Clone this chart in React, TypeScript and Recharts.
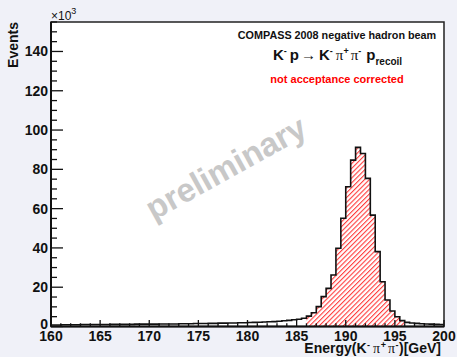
import { Area, ComposedChart, ReferenceArea, XAxis, YAxis } from "recharts";

const W = 457;
const H = 357;

// K- pi+ pi- energy, 0.5 GeV bins from 160 to 200 GeV, counts in units of 10^3
const BIN_START = 160;
const BIN_WIDTH = 0.5;
const COUNTS = [
  0.8, 0.8, 0.9, 0.9, 0.9, 0.9, 1.0, 1.0, 1.0, 1.0,
  1.0, 1.0, 1.1, 1.1, 1.1, 1.1, 1.1, 1.2, 1.2, 1.2,
  1.2, 1.2, 1.3, 1.3, 1.3, 1.3, 1.4, 1.4, 1.4, 1.5,
  1.5, 1.5, 1.6, 1.6, 1.7, 1.7, 1.8, 1.8, 1.9, 1.9,
  2.0, 2.1, 2.2, 2.3, 2.4, 2.5, 2.7, 2.9, 3.1, 3.4,
  3.7, 4.2, 5.3, 7.0, 10.1, 15.2, 19.4, 26.2, 39.8, 55.1,
  71.1, 84.7, 91.2, 88.1, 75.4, 56.7, 38.1, 22.8, 13.5, 7.9,
  5.0, 3.0, 2.1, 1.8, 1.6, 1.4, 1.3, 1.2, 1.1, 1.0,
];

// exclusive selection window (hatched)
const CUT_LO = 186;
const CUT_HI = 196;

const X_DOMAIN = [160, 200];
const Y_DOMAIN = [0, 155];
const X_TICKS = Array.from({ length: 41 }, (_, i) => 160 + i);
const Y_TICKS = Array.from({ length: 32 }, (_, i) => i * 5);

const rows = COUNTS.map((v, i) => {
  const e = BIN_START + i * BIN_WIDTH;
  return { e, v, h: e >= CUT_LO && e <= CUT_HI ? v : null };
});
rows.push({ e: X_DOMAIN[1], v: COUNTS[COUNTS.length - 1], h: null });

const INK = "#111";
const FONT = "'Liberation Sans', Arial, Helvetica, sans-serif";
const SERIF = "'Liberation Serif', 'DejaVu Serif', serif";

function YTick(p: any) {
  const v = p.payload.value as number;
  const major = v % 20 === 0;
  return (
    <g>
      <line x1={p.x} x2={p.x + (major ? 12 : 6)} y1={p.y} y2={p.y} stroke={INK} strokeWidth={1.3} />
      {major && (
        <text
          x={p.x - 3}
          y={p.y + (v === 0 ? 2 : 5)}
          textAnchor="end"
          fontFamily={FONT}
          fontWeight="bold"
          fontSize={14}
          fill={INK}
        >
          {v}
        </text>
      )}
    </g>
  );
}

function XTick(p: any) {
  const v = p.payload.value as number;
  const major = v % 5 === 0;
  return (
    <g>
      <line x1={p.x} x2={p.x} y1={p.y} y2={p.y - (major ? 6.5 : 3.2)} stroke={INK} strokeWidth={1.3} />
      {major && (
        <text x={p.x} y={p.y + 14.5} textAnchor="middle" fontFamily={FONT} fontWeight="bold" fontSize={14} fill={INK}>
          {v}
        </text>
      )}
    </g>
  );
}

export default function App() {
  return (
    <div style={{ position: "absolute", left: 0, top: 0, width: W, height: H, background: "#f0f1f8" }}>
      <ComposedChart width={W} height={H} data={rows} margin={{ top: 22, right: 13, left: 0, bottom: 0 }}>
        <defs>
          <pattern id="hatch" patternUnits="userSpaceOnUse" width={3.4} height={3.4} patternTransform="rotate(45)">
            <line x1={0.6} y1={0} x2={0.6} y2={3.4} stroke="#ff1010" strokeWidth={0.9} />
          </pattern>
        </defs>
        <ReferenceArea x1={160} x2={200} y1={0} y2={155} fill="#ffffff" fillOpacity={1} stroke="none" />
        <XAxis
          dataKey="e"
          type="number"
          domain={X_DOMAIN}
          ticks={X_TICKS}
          interval={0}
          height={30.5}
          tickSize={0}
          tickMargin={0}
          tickLine={false}
          axisLine={{ stroke: INK, strokeWidth: 2 }}
          tick={XTick}
          allowDataOverflow
        />
        <YAxis
          type="number"
          domain={Y_DOMAIN}
          ticks={Y_TICKS}
          interval={0}
          width={51}
          tickSize={0}
          tickMargin={0}
          tickLine={false}
          axisLine={{ stroke: INK, strokeWidth: 2 }}
          tick={YTick}
          allowDataOverflow
        />
        <Area
          type="stepAfter"
          dataKey="h"
          stroke="none"
          fill="url(#hatch)"
          fillOpacity={1}
          isAnimationActive={false}
          dot={false}
          activeDot={false}
        />
        <Area
          type="stepAfter"
          dataKey="v"
          stroke={INK}
          strokeWidth={1.6}
          fill="none"
          isAnimationActive={false}
          dot={false}
          activeDot={false}
        />
        <ReferenceArea x1={160} x2={200} y1={0} y2={155} fill="none" stroke="#222" strokeWidth={1.5} />
      </ComposedChart>

      <svg width={W} height={H} style={{ position: "absolute", left: 0, top: 0, pointerEvents: "none" }}>
        <text
          x={226}
          y={179}
          transform="rotate(-29 226 168)"
          textAnchor="middle"
          fontFamily={FONT}
          fontWeight="bold"
          fontSize={33}
          fill="#c8c8c8"
        >
          preliminary
        </text>

        <text x={51} y={20} fontFamily={FONT} fontSize={12} fill={INK}>
          ×10
          <tspan dy={-6} fontSize={9}>3</tspan>
        </text>

        <text
          x={18}
          y={22}
          transform="rotate(-90 18 22)"
          textAnchor="end"
          fontFamily={FONT}
          fontWeight="bold"
          fontSize={14}
          fill={INK}
        >
          Events
        </text>

        <text x={441} y={353} textAnchor="end" fontFamily={FONT} fontWeight="bold" fontSize={14} fill={INK}>
          Energy(K
          <tspan dy={-5} dx={0.5} fontSize={9}>-</tspan>
          <tspan dy={5} dx={3} fontFamily={SERIF} fontWeight="normal">π</tspan>
          <tspan dy={-5} dx={0.5} fontSize={9}>+</tspan>
          <tspan dy={5} dx={2} fontFamily={SERIF} fontWeight="normal">π</tspan>
          <tspan dy={-5} dx={0.5} fontSize={9}>-</tspan>
          <tspan dy={5} dx={0.5}>)[GeV]</tspan>
        </text>

        <text x={337} y={39} textAnchor="middle" fontFamily={FONT} fontWeight="bold" fontSize={10.8} fill={INK}>
          COMPASS 2008 negative hadron beam
        </text>

        <text x={273} y={60} fontFamily={FONT} fontWeight="bold" fontSize={15} fill={INK}>
          K
          <tspan dy={-6} fontSize={9}>-</tspan>
          <tspan dy={6} dx={3}>p</tspan>
          <tspan dx={2} fontWeight="normal">→</tspan>
          <tspan dx={3}>K</tspan>
          <tspan dy={-6} fontSize={9}>-</tspan>
          <tspan dy={6} dx={3} fontFamily={SERIF} fontWeight="normal">π</tspan>
          <tspan dy={-6} fontSize={9}>+</tspan>
          <tspan dy={6} dx={2} fontFamily={SERIF} fontWeight="normal">π</tspan>
          <tspan dy={-6} fontSize={9}>-</tspan>
          <tspan dy={6} dx={5}>p</tspan>
          <tspan dy={5} fontSize={10}>recoil</tspan>
        </text>

        <text x={337} y={83} textAnchor="middle" fontFamily={FONT} fontWeight="bold" fontSize={11} fill="#ff0000">
          not acceptance corrected
        </text>
      </svg>
    </div>
  );
}
